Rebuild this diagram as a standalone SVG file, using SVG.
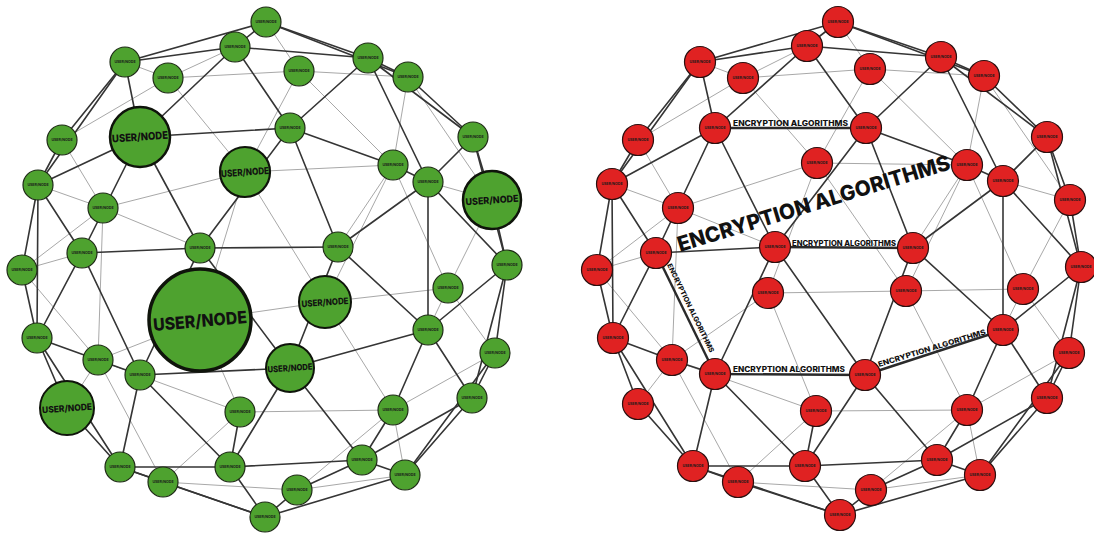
<svg xmlns="http://www.w3.org/2000/svg" width="1094" height="533" viewBox="0 0 1094 533">
<style>
.d{stroke:#353535;stroke-width:1.6;stroke-linecap:round}
.t{stroke:#a8a8a8;stroke-width:1}
.dl{stroke:#2a2a2a;stroke-width:2.4}
.ng{fill:#4ea22f;stroke:#1e2a16;stroke-width:1.2}
.nr{fill:#e02222;stroke:#2a1010;stroke-width:1.2}
.bg{fill:#4ea22f;stroke:#0f140b}
.tn{font-family:Inter,'Liberation Sans',sans-serif;font-size:3.6px;font-weight:700;fill:#1a1a1a;text-anchor:middle;dominant-baseline:central}
.bl{font-family:Inter,'Liberation Sans',sans-serif;font-weight:800;fill:#111;text-anchor:middle;dominant-baseline:central}
.ea{font-family:Inter,'Liberation Sans',sans-serif;font-weight:800;fill:#111}
</style>
<rect width="1094" height="533" fill="#fff"/>
<g id="connectors-left">
<line class="t" x1="266" y1="22" x2="299" y2="71"/>
<line class="t" x1="125" y1="62" x2="168" y2="78"/>
<line class="t" x1="235" y1="47" x2="168" y2="78"/>
<line class="t" x1="168" y1="78" x2="299" y2="71"/>
<line class="t" x1="299" y1="71" x2="408" y2="77"/>
<line class="t" x1="299" y1="71" x2="393" y2="165"/>
<line class="t" x1="299" y1="71" x2="245" y2="172"/>
<line class="t" x1="168" y1="78" x2="62" y2="140"/>
<line class="t" x1="168" y1="78" x2="245" y2="172"/>
<line class="t" x1="62" y1="140" x2="103" y2="208"/>
<line class="t" x1="245" y1="172" x2="103" y2="208"/>
<line class="t" x1="245" y1="172" x2="393" y2="165"/>
<line class="t" x1="245" y1="172" x2="325" y2="302"/>
<line class="t" x1="245" y1="172" x2="200" y2="320"/>
<line class="t" x1="103" y1="208" x2="200" y2="248"/>
<line class="t" x1="103" y1="208" x2="98" y2="360"/>
<line class="t" x1="103" y1="208" x2="22" y2="270"/>
<line class="t" x1="38" y1="185" x2="103" y2="208"/>
<line class="t" x1="22" y1="270" x2="98" y2="360"/>
<line class="t" x1="22" y1="270" x2="82" y2="253"/>
<line class="t" x1="98" y1="360" x2="200" y2="320"/>
<line class="t" x1="98" y1="360" x2="67" y2="408"/>
<line class="t" x1="98" y1="360" x2="163" y2="482"/>
<line class="t" x1="98" y1="360" x2="240" y2="412"/>
<line class="t" x1="200" y1="320" x2="325" y2="302"/>
<line class="t" x1="200" y1="320" x2="240" y2="412"/>
<line class="t" x1="240" y1="412" x2="163" y2="482"/>
<line class="t" x1="240" y1="412" x2="393" y2="410"/>
<line class="t" x1="163" y1="482" x2="297" y2="490"/>
<line class="t" x1="325" y1="302" x2="393" y2="410"/>
<line class="t" x1="325" y1="302" x2="448" y2="288"/>
<line class="t" x1="448" y1="288" x2="428" y2="330"/>
<line class="t" x1="448" y1="288" x2="495" y2="353"/>
<line class="t" x1="393" y1="410" x2="495" y2="353"/>
<line class="t" x1="393" y1="410" x2="405" y2="475"/>
<line class="t" x1="297" y1="490" x2="405" y2="475"/>
<line class="t" x1="393" y1="410" x2="297" y2="490"/>
<line class="t" x1="408" y1="77" x2="393" y2="165"/>
<line class="t" x1="408" y1="77" x2="492" y2="200"/>
<line class="t" x1="428" y1="182" x2="492" y2="200"/>
<line class="t" x1="492" y1="200" x2="448" y2="288"/>
<line class="t" x1="393" y1="165" x2="325" y2="302"/>
<line class="t" x1="393" y1="165" x2="448" y2="288"/>
<line class="t" x1="393" y1="165" x2="338" y2="247"/>
<line class="d" x1="266" y1="22" x2="235" y2="47"/>
<line class="d" x1="266" y1="22" x2="125" y2="62"/>
<line class="d" x1="235" y1="47" x2="125" y2="62"/>
<line class="d" x1="266" y1="22" x2="368" y2="58"/>
<line class="d" x1="266" y1="22" x2="408" y2="77"/>
<line class="d" x1="235" y1="47" x2="368" y2="58"/>
<line class="d" x1="368" y1="58" x2="408" y2="77"/>
<line class="d" x1="368" y1="58" x2="473" y2="137"/>
<line class="d" x1="408" y1="77" x2="473" y2="137"/>
<line class="d" x1="473" y1="137" x2="492" y2="200"/>
<line class="d" x1="492" y1="200" x2="507" y2="265"/>
<line class="d" x1="473" y1="137" x2="507" y2="265"/>
<line class="d" x1="507" y1="265" x2="495" y2="353"/>
<line class="d" x1="495" y1="353" x2="472" y2="398"/>
<line class="d" x1="507" y1="265" x2="472" y2="398"/>
<line class="d" x1="472" y1="398" x2="405" y2="475"/>
<line class="d" x1="495" y1="353" x2="405" y2="475"/>
<line class="d" x1="405" y1="475" x2="265" y2="517"/>
<line class="d" x1="297" y1="490" x2="265" y2="517"/>
<line class="d" x1="163" y1="482" x2="265" y2="517"/>
<line class="d" x1="120" y1="467" x2="163" y2="482"/>
<line class="d" x1="120" y1="467" x2="265" y2="517"/>
<line class="d" x1="67" y1="408" x2="120" y2="467"/>
<line class="d" x1="37" y1="338" x2="67" y2="408"/>
<line class="d" x1="37" y1="338" x2="120" y2="467"/>
<line class="d" x1="22" y1="270" x2="37" y2="338"/>
<line class="d" x1="38" y1="185" x2="22" y2="270"/>
<line class="d" x1="38" y1="185" x2="37" y2="338"/>
<line class="d" x1="62" y1="140" x2="38" y2="185"/>
<line class="d" x1="125" y1="62" x2="62" y2="140"/>
<line class="d" x1="125" y1="62" x2="38" y2="185"/>
<line class="d" x1="235" y1="47" x2="140" y2="137"/>
<line class="d" x1="235" y1="47" x2="290" y2="128"/>
<line class="d" x1="125" y1="62" x2="140" y2="137"/>
<line class="d" x1="140" y1="137" x2="290" y2="128"/>
<line class="d" x1="140" y1="137" x2="200" y2="248"/>
<line class="d" x1="140" y1="137" x2="82" y2="253"/>
<line class="d" x1="38" y1="185" x2="140" y2="137"/>
<line class="d" x1="38" y1="185" x2="82" y2="253"/>
<line class="d" x1="82" y1="253" x2="200" y2="248"/>
<line class="d" x1="82" y1="253" x2="37" y2="338"/>
<line class="d" x1="82" y1="253" x2="140" y2="375"/>
<line class="d" x1="200" y1="248" x2="140" y2="375"/>
<line class="d" x1="200" y1="248" x2="290" y2="368"/>
<line class="d" x1="200" y1="248" x2="338" y2="247"/>
<line class="d" x1="290" y1="128" x2="200" y2="248"/>
<line class="d" x1="290" y1="128" x2="338" y2="247"/>
<line class="d" x1="290" y1="128" x2="393" y2="165"/>
<line class="d" x1="368" y1="58" x2="290" y2="128"/>
<line class="d" x1="368" y1="58" x2="428" y2="182"/>
<line class="d" x1="393" y1="165" x2="428" y2="182"/>
<line class="d" x1="428" y1="182" x2="473" y2="137"/>
<line class="d" x1="428" y1="182" x2="338" y2="247"/>
<line class="d" x1="428" y1="182" x2="428" y2="330"/>
<line class="d" x1="428" y1="182" x2="507" y2="265"/>
<line class="d" x1="338" y1="247" x2="428" y2="330"/>
<line class="d" x1="338" y1="247" x2="290" y2="368"/>
<line class="d" x1="290" y1="368" x2="428" y2="330"/>
<line class="d" x1="140" y1="375" x2="290" y2="368"/>
<line class="d" x1="37" y1="338" x2="98" y2="360"/>
<line class="d" x1="98" y1="360" x2="140" y2="375"/>
<line class="d" x1="140" y1="375" x2="120" y2="467"/>
<line class="d" x1="140" y1="375" x2="230" y2="467"/>
<line class="d" x1="290" y1="368" x2="230" y2="467"/>
<line class="d" x1="290" y1="368" x2="362" y2="460"/>
<line class="d" x1="240" y1="412" x2="230" y2="467"/>
<line class="d" x1="120" y1="467" x2="230" y2="467"/>
<line class="d" x1="230" y1="467" x2="362" y2="460"/>
<line class="d" x1="230" y1="467" x2="265" y2="517"/>
<line class="d" x1="393" y1="410" x2="362" y2="460"/>
<line class="d" x1="428" y1="330" x2="393" y2="410"/>
<line class="d" x1="428" y1="330" x2="472" y2="398"/>
<line class="d" x1="428" y1="330" x2="507" y2="265"/>
<line class="d" x1="472" y1="398" x2="362" y2="460"/>
<line class="d" x1="362" y1="460" x2="405" y2="475"/>
<line class="d" x1="362" y1="460" x2="297" y2="490"/>
</g>
<g id="connectors-right">
<line class="t" x1="838" y1="22" x2="870" y2="69"/>
<line class="t" x1="700" y1="62" x2="743" y2="78"/>
<line class="t" x1="807" y1="46" x2="743" y2="78"/>
<line class="t" x1="743" y1="78" x2="870" y2="69"/>
<line class="t" x1="870" y1="69" x2="984" y2="76"/>
<line class="t" x1="870" y1="69" x2="967" y2="165"/>
<line class="t" x1="870" y1="69" x2="817" y2="163"/>
<line class="t" x1="743" y1="78" x2="638" y2="140"/>
<line class="t" x1="743" y1="78" x2="817" y2="163"/>
<line class="t" x1="638" y1="140" x2="678" y2="208"/>
<line class="t" x1="817" y1="163" x2="678" y2="208"/>
<line class="t" x1="817" y1="163" x2="967" y2="165"/>
<line class="t" x1="817" y1="163" x2="906" y2="291"/>
<line class="t" x1="817" y1="163" x2="768" y2="293"/>
<line class="t" x1="678" y1="208" x2="775" y2="247"/>
<line class="t" x1="678" y1="208" x2="672" y2="360"/>
<line class="t" x1="678" y1="208" x2="597" y2="270"/>
<line class="t" x1="612" y1="184" x2="678" y2="208"/>
<line class="t" x1="597" y1="270" x2="672" y2="360"/>
<line class="t" x1="597" y1="270" x2="656" y2="253"/>
<line class="t" x1="672" y1="360" x2="768" y2="293"/>
<line class="t" x1="672" y1="360" x2="638" y2="404"/>
<line class="t" x1="672" y1="360" x2="738" y2="482"/>
<line class="t" x1="672" y1="360" x2="816" y2="411"/>
<line class="t" x1="768" y1="293" x2="906" y2="291"/>
<line class="t" x1="768" y1="293" x2="816" y2="411"/>
<line class="t" x1="816" y1="411" x2="738" y2="482"/>
<line class="t" x1="816" y1="411" x2="967" y2="410"/>
<line class="t" x1="738" y1="482" x2="871" y2="490"/>
<line class="t" x1="906" y1="291" x2="967" y2="410"/>
<line class="t" x1="906" y1="291" x2="1023" y2="289"/>
<line class="t" x1="1023" y1="289" x2="1003" y2="330"/>
<line class="t" x1="1023" y1="289" x2="1069" y2="353"/>
<line class="t" x1="967" y1="410" x2="1069" y2="353"/>
<line class="t" x1="967" y1="410" x2="980" y2="475"/>
<line class="t" x1="871" y1="490" x2="980" y2="475"/>
<line class="t" x1="967" y1="410" x2="871" y2="490"/>
<line class="t" x1="984" y1="76" x2="967" y2="165"/>
<line class="t" x1="984" y1="76" x2="1070" y2="200"/>
<line class="t" x1="1003" y1="181" x2="1070" y2="200"/>
<line class="t" x1="1070" y1="200" x2="1023" y2="289"/>
<line class="t" x1="967" y1="165" x2="906" y2="291"/>
<line class="t" x1="967" y1="165" x2="1023" y2="289"/>
<line class="t" x1="967" y1="165" x2="913" y2="248"/>
<line class="d" x1="838" y1="22" x2="807" y2="46"/>
<line class="d" x1="838" y1="22" x2="700" y2="62"/>
<line class="d" x1="807" y1="46" x2="700" y2="62"/>
<line class="d" x1="838" y1="22" x2="941" y2="57"/>
<line class="d" x1="838" y1="22" x2="984" y2="76"/>
<line class="d" x1="807" y1="46" x2="941" y2="57"/>
<line class="d" x1="941" y1="57" x2="984" y2="76"/>
<line class="d" x1="941" y1="57" x2="1047" y2="137"/>
<line class="d" x1="984" y1="76" x2="1047" y2="137"/>
<line class="d" x1="1047" y1="137" x2="1070" y2="200"/>
<line class="d" x1="1070" y1="200" x2="1081" y2="267"/>
<line class="d" x1="1047" y1="137" x2="1081" y2="267"/>
<line class="d" x1="1081" y1="267" x2="1069" y2="353"/>
<line class="d" x1="1069" y1="353" x2="1047" y2="398"/>
<line class="d" x1="1081" y1="267" x2="1047" y2="398"/>
<line class="d" x1="1047" y1="398" x2="980" y2="475"/>
<line class="d" x1="1069" y1="353" x2="980" y2="475"/>
<line class="d" x1="980" y1="475" x2="840" y2="515"/>
<line class="d" x1="871" y1="490" x2="840" y2="515"/>
<line class="d" x1="738" y1="482" x2="840" y2="515"/>
<line class="d" x1="693" y1="466" x2="738" y2="482"/>
<line class="d" x1="693" y1="466" x2="840" y2="515"/>
<line class="d" x1="638" y1="404" x2="693" y2="466"/>
<line class="d" x1="613" y1="338" x2="638" y2="404"/>
<line class="d" x1="613" y1="338" x2="693" y2="466"/>
<line class="d" x1="597" y1="270" x2="613" y2="338"/>
<line class="d" x1="612" y1="184" x2="597" y2="270"/>
<line class="d" x1="612" y1="184" x2="613" y2="338"/>
<line class="d" x1="638" y1="140" x2="612" y2="184"/>
<line class="d" x1="700" y1="62" x2="638" y2="140"/>
<line class="d" x1="700" y1="62" x2="612" y2="184"/>
<line class="d" x1="807" y1="46" x2="715" y2="128"/>
<line class="d" x1="807" y1="46" x2="866" y2="128"/>
<line class="d" x1="700" y1="62" x2="715" y2="128"/>
<line class="dl" x1="715" y1="128" x2="866" y2="128"/>
<line class="d" x1="715" y1="128" x2="775" y2="247"/>
<line class="d" x1="715" y1="128" x2="656" y2="253"/>
<line class="d" x1="612" y1="184" x2="715" y2="128"/>
<line class="d" x1="612" y1="184" x2="656" y2="253"/>
<line class="d" x1="656" y1="253" x2="775" y2="247"/>
<line class="d" x1="656" y1="253" x2="613" y2="338"/>
<line class="dl" x1="656" y1="253" x2="715" y2="374"/>
<line class="d" x1="775" y1="247" x2="715" y2="374"/>
<line class="d" x1="775" y1="247" x2="865" y2="375"/>
<line class="dl" x1="775" y1="247" x2="913" y2="248"/>
<line class="d" x1="866" y1="128" x2="775" y2="247"/>
<line class="d" x1="866" y1="128" x2="913" y2="248"/>
<line class="d" x1="866" y1="128" x2="967" y2="165"/>
<line class="d" x1="941" y1="57" x2="866" y2="128"/>
<line class="d" x1="941" y1="57" x2="1003" y2="181"/>
<line class="d" x1="967" y1="165" x2="1003" y2="181"/>
<line class="d" x1="1003" y1="181" x2="1047" y2="137"/>
<line class="d" x1="1003" y1="181" x2="913" y2="248"/>
<line class="d" x1="1003" y1="181" x2="1003" y2="330"/>
<line class="d" x1="1003" y1="181" x2="1081" y2="267"/>
<line class="d" x1="913" y1="248" x2="1003" y2="330"/>
<line class="d" x1="913" y1="248" x2="865" y2="375"/>
<line class="dl" x1="865" y1="375" x2="1003" y2="330"/>
<line class="dl" x1="715" y1="374" x2="865" y2="375"/>
<line class="d" x1="613" y1="338" x2="672" y2="360"/>
<line class="d" x1="672" y1="360" x2="715" y2="374"/>
<line class="d" x1="715" y1="374" x2="693" y2="466"/>
<line class="d" x1="715" y1="374" x2="805" y2="466"/>
<line class="d" x1="865" y1="375" x2="805" y2="466"/>
<line class="d" x1="865" y1="375" x2="937" y2="460"/>
<line class="d" x1="816" y1="411" x2="805" y2="466"/>
<line class="d" x1="693" y1="466" x2="805" y2="466"/>
<line class="d" x1="805" y1="466" x2="937" y2="460"/>
<line class="d" x1="805" y1="466" x2="840" y2="515"/>
<line class="d" x1="967" y1="410" x2="937" y2="460"/>
<line class="d" x1="1003" y1="330" x2="967" y2="410"/>
<line class="d" x1="1003" y1="330" x2="1047" y2="398"/>
<line class="d" x1="1003" y1="330" x2="1081" y2="267"/>
<line class="d" x1="1047" y1="398" x2="937" y2="460"/>
<line class="d" x1="937" y1="460" x2="980" y2="475"/>
<line class="d" x1="937" y1="460" x2="871" y2="490"/>
</g>
<g id="nodes-left">
<g id="L-A"><circle class="ng" cx="266" cy="22" r="15"/><text class="tn" x="266" y="22">USER/NODE</text></g>
<g id="L-B"><circle class="ng" cx="235" cy="47" r="15"/><text class="tn" x="235" y="47">USER/NODE</text></g>
<g id="L-C"><circle class="ng" cx="299" cy="71" r="15"/><text class="tn" x="299" y="71">USER/NODE</text></g>
<g id="L-D"><circle class="ng" cx="368" cy="58" r="15"/><text class="tn" x="368" y="58">USER/NODE</text></g>
<g id="L-E"><circle class="ng" cx="408" cy="77" r="15"/><text class="tn" x="408" y="77">USER/NODE</text></g>
<g id="L-F"><circle class="ng" cx="125" cy="62" r="15"/><text class="tn" x="125" y="62">USER/NODE</text></g>
<g id="L-G"><circle class="ng" cx="168" cy="78" r="15"/><text class="tn" x="168" y="78">USER/NODE</text></g>
<g id="L-H"><circle class="bg" cx="140" cy="137" r="30" stroke-width="2.5"/><text class="bl" x="140" y="137" font-size="10.5" textLength="56" lengthAdjust="spacingAndGlyphs" transform="rotate(-4 140 137)">USER/NODE</text></g>
<g id="L-I"><circle class="ng" cx="290" cy="128" r="15"/><text class="tn" x="290" y="128">USER/NODE</text></g>
<g id="L-J"><circle class="ng" cx="62" cy="140" r="15"/><text class="tn" x="62" y="140">USER/NODE</text></g>
<g id="L-K"><circle class="bg" cx="245" cy="172" r="25" stroke-width="2.2"/><text class="bl" x="245" y="172" font-size="9.5" textLength="48" lengthAdjust="spacingAndGlyphs" transform="rotate(-4 245 172)">USER/NODE</text></g>
<g id="L-L"><circle class="ng" cx="393" cy="165" r="15"/><text class="tn" x="393" y="165">USER/NODE</text></g>
<g id="L-M"><circle class="ng" cx="428" cy="182" r="15"/><text class="tn" x="428" y="182">USER/NODE</text></g>
<g id="L-N"><circle class="ng" cx="473" cy="137" r="15"/><text class="tn" x="473" y="137">USER/NODE</text></g>
<g id="L-O"><circle class="ng" cx="38" cy="185" r="15"/><text class="tn" x="38" y="185">USER/NODE</text></g>
<g id="L-P"><circle class="bg" cx="492" cy="200" r="29" stroke-width="2.5"/><text class="bl" x="492" y="200" font-size="9.5" textLength="53" lengthAdjust="spacingAndGlyphs" transform="rotate(-4 492 200)">USER/NODE</text></g>
<g id="L-Q"><circle class="ng" cx="103" cy="208" r="15"/><text class="tn" x="103" y="208">USER/NODE</text></g>
<g id="L-R"><circle class="ng" cx="82" cy="253" r="15"/><text class="tn" x="82" y="253">USER/NODE</text></g>
<g id="L-S"><circle class="ng" cx="200" cy="248" r="15"/><text class="tn" x="200" y="248">USER/NODE</text></g>
<g id="L-T"><circle class="ng" cx="338" cy="247" r="15"/><text class="tn" x="338" y="247">USER/NODE</text></g>
<g id="L-U"><circle class="ng" cx="22" cy="270" r="15"/><text class="tn" x="22" y="270">USER/NODE</text></g>
<g id="L-V"><circle class="ng" cx="507" cy="265" r="15"/><text class="tn" x="507" y="265">USER/NODE</text></g>
<g id="L-W"><circle class="bg" cx="200" cy="320" r="51" stroke-width="3.5"/><text class="bl" x="200" y="321" font-size="17" textLength="94" lengthAdjust="spacingAndGlyphs" transform="rotate(-5 200 321)">USER/NODE</text></g>
<g id="L-X"><circle class="bg" cx="325" cy="302" r="26" stroke-width="2"/><text class="bl" x="325" y="302" font-size="9" textLength="47" lengthAdjust="spacingAndGlyphs" transform="rotate(-4 325 302)">USER/NODE</text></g>
<g id="L-Y"><circle class="ng" cx="448" cy="288" r="15"/><text class="tn" x="448" y="288">USER/NODE</text></g>
<g id="L-Z"><circle class="ng" cx="37" cy="338" r="15"/><text class="tn" x="37" y="338">USER/NODE</text></g>
<g id="L-a"><circle class="ng" cx="98" cy="360" r="15"/><text class="tn" x="98" y="360">USER/NODE</text></g>
<g id="L-b"><circle class="ng" cx="140" cy="375" r="15"/><text class="tn" x="140" y="375">USER/NODE</text></g>
<g id="L-c"><circle class="ng" cx="428" cy="330" r="15"/><text class="tn" x="428" y="330">USER/NODE</text></g>
<g id="L-d"><circle class="ng" cx="495" cy="353" r="15"/><text class="tn" x="495" y="353">USER/NODE</text></g>
<g id="L-e"><circle class="bg" cx="290" cy="368" r="24" stroke-width="2"/><text class="bl" x="290" y="368" font-size="8.5" textLength="45" lengthAdjust="spacingAndGlyphs" transform="rotate(-4 290 368)">USER/NODE</text></g>
<g id="L-f"><circle class="bg" cx="67" cy="408" r="27" stroke-width="2"/><text class="bl" x="67" y="408" font-size="9" textLength="50" lengthAdjust="spacingAndGlyphs" transform="rotate(-4 67 408)">USER/NODE</text></g>
<g id="L-g"><circle class="ng" cx="240" cy="412" r="15"/><text class="tn" x="240" y="412">USER/NODE</text></g>
<g id="L-h"><circle class="ng" cx="393" cy="410" r="15"/><text class="tn" x="393" y="410">USER/NODE</text></g>
<g id="L-i"><circle class="ng" cx="472" cy="398" r="15"/><text class="tn" x="472" y="398">USER/NODE</text></g>
<g id="L-j"><circle class="ng" cx="120" cy="467" r="15"/><text class="tn" x="120" y="467">USER/NODE</text></g>
<g id="L-k"><circle class="ng" cx="163" cy="482" r="15"/><text class="tn" x="163" y="482">USER/NODE</text></g>
<g id="L-l"><circle class="ng" cx="230" cy="467" r="15"/><text class="tn" x="230" y="467">USER/NODE</text></g>
<g id="L-m"><circle class="ng" cx="362" cy="460" r="15"/><text class="tn" x="362" y="460">USER/NODE</text></g>
<g id="L-n"><circle class="ng" cx="405" cy="475" r="15"/><text class="tn" x="405" y="475">USER/NODE</text></g>
<g id="L-o"><circle class="ng" cx="297" cy="490" r="15"/><text class="tn" x="297" y="490">USER/NODE</text></g>
<g id="L-p"><circle class="ng" cx="265" cy="517" r="15"/><text class="tn" x="265" y="517">USER/NODE</text></g>
</g>
<g id="nodes-right">
<g id="R-A"><circle class="nr" cx="838" cy="22" r="15.5"/><text class="tn" x="838" y="22">USER/NODE</text></g>
<g id="R-B"><circle class="nr" cx="807" cy="46" r="15.5"/><text class="tn" x="807" y="46">USER/NODE</text></g>
<g id="R-C"><circle class="nr" cx="870" cy="69" r="15.5"/><text class="tn" x="870" y="69">USER/NODE</text></g>
<g id="R-D"><circle class="nr" cx="941" cy="57" r="15.5"/><text class="tn" x="941" y="57">USER/NODE</text></g>
<g id="R-E"><circle class="nr" cx="984" cy="76" r="15.5"/><text class="tn" x="984" y="76">USER/NODE</text></g>
<g id="R-F"><circle class="nr" cx="700" cy="62" r="15.5"/><text class="tn" x="700" y="62">USER/NODE</text></g>
<g id="R-G"><circle class="nr" cx="743" cy="78" r="15.5"/><text class="tn" x="743" y="78">USER/NODE</text></g>
<g id="R-H"><circle class="nr" cx="715" cy="128" r="15.5"/><text class="tn" x="715" y="128">USER/NODE</text></g>
<g id="R-I"><circle class="nr" cx="866" cy="128" r="15.5"/><text class="tn" x="866" y="128">USER/NODE</text></g>
<g id="R-J"><circle class="nr" cx="638" cy="140" r="15.5"/><text class="tn" x="638" y="140">USER/NODE</text></g>
<g id="R-K"><circle class="nr" cx="817" cy="163" r="15.5"/><text class="tn" x="817" y="163">USER/NODE</text></g>
<g id="R-L"><circle class="nr" cx="967" cy="165" r="15.5"/><text class="tn" x="967" y="165">USER/NODE</text></g>
<g id="R-M"><circle class="nr" cx="1003" cy="181" r="15.5"/><text class="tn" x="1003" y="181">USER/NODE</text></g>
<g id="R-N"><circle class="nr" cx="1047" cy="137" r="15.5"/><text class="tn" x="1047" y="137">USER/NODE</text></g>
<g id="R-O"><circle class="nr" cx="612" cy="184" r="15.5"/><text class="tn" x="612" y="184">USER/NODE</text></g>
<g id="R-P"><circle class="nr" cx="1070" cy="200" r="15.5"/><text class="tn" x="1070" y="200">USER/NODE</text></g>
<g id="R-Q"><circle class="nr" cx="678" cy="208" r="15.5"/><text class="tn" x="678" y="208">USER/NODE</text></g>
<g id="R-R"><circle class="nr" cx="656" cy="253" r="15.5"/><text class="tn" x="656" y="253">USER/NODE</text></g>
<g id="R-S"><circle class="nr" cx="775" cy="247" r="15.5"/><text class="tn" x="775" y="247">USER/NODE</text></g>
<g id="R-T"><circle class="nr" cx="913" cy="248" r="15.5"/><text class="tn" x="913" y="248">USER/NODE</text></g>
<g id="R-U"><circle class="nr" cx="597" cy="270" r="15.5"/><text class="tn" x="597" y="270">USER/NODE</text></g>
<g id="R-V"><circle class="nr" cx="1081" cy="267" r="15.5"/><text class="tn" x="1081" y="267">USER/NODE</text></g>
<g id="R-W"><circle class="nr" cx="768" cy="293" r="15.5"/><text class="tn" x="768" y="293">USER/NODE</text></g>
<g id="R-X"><circle class="nr" cx="906" cy="291" r="15.5"/><text class="tn" x="906" y="291">USER/NODE</text></g>
<g id="R-Y"><circle class="nr" cx="1023" cy="289" r="15.5"/><text class="tn" x="1023" y="289">USER/NODE</text></g>
<g id="R-Z"><circle class="nr" cx="613" cy="338" r="15.5"/><text class="tn" x="613" y="338">USER/NODE</text></g>
<g id="R-a"><circle class="nr" cx="672" cy="360" r="15.5"/><text class="tn" x="672" y="360">USER/NODE</text></g>
<g id="R-b"><circle class="nr" cx="715" cy="374" r="15.5"/><text class="tn" x="715" y="374">USER/NODE</text></g>
<g id="R-c"><circle class="nr" cx="1003" cy="330" r="15.5"/><text class="tn" x="1003" y="330">USER/NODE</text></g>
<g id="R-d"><circle class="nr" cx="1069" cy="353" r="15.5"/><text class="tn" x="1069" y="353">USER/NODE</text></g>
<g id="R-e"><circle class="nr" cx="865" cy="375" r="15.5"/><text class="tn" x="865" y="375">USER/NODE</text></g>
<g id="R-f"><circle class="nr" cx="638" cy="404" r="15.5"/><text class="tn" x="638" y="404">USER/NODE</text></g>
<g id="R-g"><circle class="nr" cx="816" cy="411" r="15.5"/><text class="tn" x="816" y="411">USER/NODE</text></g>
<g id="R-h"><circle class="nr" cx="967" cy="410" r="15.5"/><text class="tn" x="967" y="410">USER/NODE</text></g>
<g id="R-i"><circle class="nr" cx="1047" cy="398" r="15.5"/><text class="tn" x="1047" y="398">USER/NODE</text></g>
<g id="R-j"><circle class="nr" cx="693" cy="466" r="15.5"/><text class="tn" x="693" y="466">USER/NODE</text></g>
<g id="R-k"><circle class="nr" cx="738" cy="482" r="15.5"/><text class="tn" x="738" y="482">USER/NODE</text></g>
<g id="R-l"><circle class="nr" cx="805" cy="466" r="15.5"/><text class="tn" x="805" y="466">USER/NODE</text></g>
<g id="R-m"><circle class="nr" cx="937" cy="460" r="15.5"/><text class="tn" x="937" y="460">USER/NODE</text></g>
<g id="R-n"><circle class="nr" cx="980" cy="475" r="15.5"/><text class="tn" x="980" y="475">USER/NODE</text></g>
<g id="R-o"><circle class="nr" cx="871" cy="490" r="15.5"/><text class="tn" x="871" y="490">USER/NODE</text></g>
<g id="R-p"><circle class="nr" cx="840" cy="515" r="15.5"/><text class="tn" x="840" y="515">USER/NODE</text></g>
</g>
<g id="labels">
<text class="ea" x="733" y="126" font-size="7.5" textLength="115" lengthAdjust="spacingAndGlyphs">ENCRYPTION ALGORITHMS</text>
<text class="ea" x="792" y="245.5" font-size="7" textLength="104" lengthAdjust="spacingAndGlyphs">ENCRYPTION ALGORITHMS</text>
<text class="ea" x="733" y="372" font-size="7.5" textLength="112" lengthAdjust="spacingAndGlyphs">ENCRYPTION ALGORITHMS</text>
<text class="ea" x="879" y="367" font-size="7.5" textLength="112" lengthAdjust="spacingAndGlyphs" transform="rotate(-17 879 367)">ENCRYPTION ALGORITHMS</text>
<text class="ea" x="667" y="265" font-size="7" textLength="98" lengthAdjust="spacingAndGlyphs" transform="rotate(64 667 265)">ENCRYPTION ALGORITHMS</text>
<text class="ea" x="680" y="252" font-size="21" textLength="284" lengthAdjust="spacingAndGlyphs" transform="rotate(-17 680 252)">ENCRYPTION ALGORITHMS</text>
</g>
</svg>
